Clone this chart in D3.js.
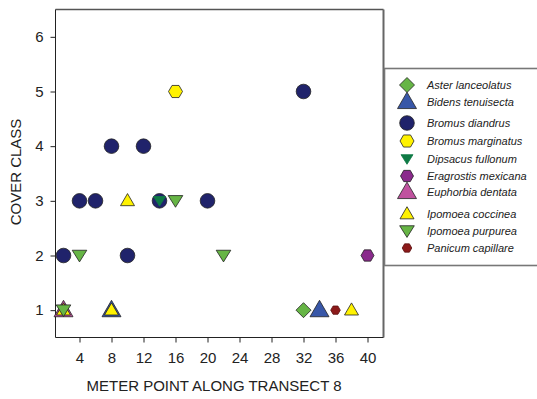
<!DOCTYPE html>
<html><head><meta charset="utf-8">
<script src="https://cdn.jsdelivr.net/npm/d3@7"></script>
<style>
html,body{margin:0;padding:0;background:#fff;}
svg{display:block;font-family:"Liberation Sans",Arial,sans-serif;}
</style></head>
<body><svg id="c" width="537" height="399"></svg>
<script>
// ---- data ----
const species = ["Aster lanceolatus","Bidens tenuisecta","Bromus diandrus","Bromus marginatus","Dipsacus fullonum","Eragrostis mexicana","Euphorbia dentata","Ipomoea coccinea","Ipomoea purpurea","Panicum capillare"];
const asterLanceolatus   = [[32,1]];
const bidensTenuisecta   = [[8,1],[34,1]];
const bromusDiandrus     = [[2,2],[4,3],[6,3],[8,4],[10,2],[12,4],[14,3],[20,3],[32,5]];
const bromusMarginatus   = [[16,5]];
const dipsacusFullonum   = [[14,3]];
const eragrostisMexicana = [[40,2]];
const euphorbiaDentata   = [[2,1]];
const ipomoeaCoccinea    = [[2,1],[8,1],[10,3],[38,1]];
const ipomoeaPurpurea    = [[2,1],[4,2],[16,3],[22,2]];
const panicumCapillare   = [[36,1]];
const xTicks = [4,8,12,16,20,24,28,32,36,40];
const yTicks = [1,2,3,4,5,6];

const seriesData = [asterLanceolatus,bidensTenuisecta,bromusDiandrus,bromusMarginatus,dipsacusFullonum,eragrostisMexicana,euphorbiaDentata,ipomoeaCoccinea,ipomoeaPurpurea,panicumCapillare];

// ---- styles ----
const styles = [
  {shape:"diamond", s:7.5, fill:"#66b545"},
  {shape:"triUp",   s:9.5, fill:"#3857a8"},
  {shape:"circle",  s:7.3, fill:"#20236b"},
  {shape:"hex",     s:7,   fill:"#fff200"},
  {shape:"triDown", s:6,   fill:"#0e7a45", stroke:"#0e7a45"},
  {shape:"hex",     s:6.5, fill:"#8a2a8c"},
  {shape:"triUp",   s:9.5, fill:"#c0529f"},
  {shape:"triUp",   s:7,   fill:"#fff200"},
  {shape:"triDown", s:7.3, fill:"#66b545"},
  {shape:"hex",     s:4.8, fill:"#8c1a1a", stroke:"#5a1010"}
];

function shapePath(shape, s){
  const pts=[];
  if(shape==="circle"){
    return `M${s},0A${s},${s} 0 1,1 ${-s},0A${s},${s} 0 1,1 ${s},0Z`;
  }
  if(shape==="diamond"){ pts.push([0,-s],[s,0],[0,s],[-s,0]); }
  if(shape==="triUp"){ const h=s*1.73; pts.push([0,-h*0.6],[s,h*0.4],[-s,h*0.4]); }
  if(shape==="triDown"){ const h=s*1.6; pts.push([0,h*0.55],[s,-h*0.45],[-s,-h*0.45]); }
  if(shape==="hex"){ for(let i=0;i<6;i++){const a=Math.PI/3*i; pts.push([s*Math.cos(a), s*Math.sin(a)]);} }
  return "M"+pts.map(p=>p[0].toFixed(2)+","+p[1].toFixed(2)).join("L")+"Z";
}

const svg = d3.select("#c");
const L=55.5, R=383.5, T=9.5, B=337.5;
const x = d3.scaleLinear().domain([1,42]).range([L,R]);
const y = d3.scaleLinear().domain([0.5,6.5]).range([B,T]);

// axes
const xAxis = d3.axisBottom(x).tickValues(xTicks).tickFormat(d3.format("d")).tickSize(5).tickSizeOuter(0).tickPadding(10);
const gx = svg.append("g").attr("transform",`translate(0,${B})`).call(xAxis);
gx.select(".domain").remove();
gx.selectAll("text").attr("font-size",15).attr("fill","#222").attr("font-family","Liberation Sans, Arial, sans-serif");
gx.selectAll("line").attr("stroke","#222");

const yAxis = d3.axisLeft(y).tickValues(yTicks).tickFormat(d3.format("d")).tickSize(5).tickSizeOuter(0).tickPadding(7);
const gy = svg.append("g").attr("transform",`translate(${L},0)`).call(yAxis);
gy.select(".domain").remove();
gy.selectAll("text").attr("font-size",15).attr("fill","#222").attr("font-family","Liberation Sans, Arial, sans-serif");
gy.selectAll("line").attr("stroke","#222");

// frame
svg.append("line").attr("x1",L).attr("x2",R).attr("y1",T).attr("y2",T).attr("stroke","#555").attr("stroke-width",1.6);
svg.append("line").attr("x1",R).attr("x2",R).attr("y1",T).attr("y2",B).attr("stroke","#666").attr("stroke-width",2);
svg.append("line").attr("x1",L).attr("x2",L).attr("y1",T).attr("y2",B).attr("stroke","#222").attr("stroke-width",1);
svg.append("line").attr("x1",L).attr("x2",R).attr("y1",B).attr("y2",B).attr("stroke","#222").attr("stroke-width",1);

// titles
svg.append("text").attr("x",214).attr("y",391).attr("text-anchor","middle")
  .attr("font-size",15).attr("fill","#222").text("METER POINT ALONG TRANSECT 8");
svg.append("text").attr("transform","translate(21,172) rotate(-90)").attr("text-anchor","middle")
  .attr("font-size",15).attr("fill","#222").text("COVER CLASS");

// points
const plot = svg.append("g");
seriesData.forEach((pts,i)=>{
  const st = styles[i];
  plot.selectAll(null).data(pts).enter().append("path")
    .attr("d", shapePath(st.shape, st.s))
    .attr("transform", d=>`translate(${x(d[0])},${y(d[1])})`)
    .attr("fill", st.fill)
    .attr("stroke", st.stroke || "#222")
    .attr("stroke-width", 0.8);
});

// legend
const lg = svg.append("g");
lg.append("rect").attr("x",384.5).attr("y",68.5).attr("width",160).attr("height",197)
  .attr("fill","#fff").attr("stroke","#777").attr("stroke-width",1.6);
const legendY = [85,102,123,141,159,176,192,214,231,248];
species.forEach((name,i)=>{
  const st = styles[i];
  lg.append("path").attr("d", shapePath(st.shape, st.s))
    .attr("transform",`translate(407,${legendY[i]})`)
    .attr("fill", st.fill).attr("stroke", st.stroke || "#222").attr("stroke-width",0.8);
  lg.append("text").attr("x",427).attr("y",legendY[i]+4).attr("font-size",11)
    .attr("font-style","italic").attr("fill","#222").text(name);
});
</script></body></html>
